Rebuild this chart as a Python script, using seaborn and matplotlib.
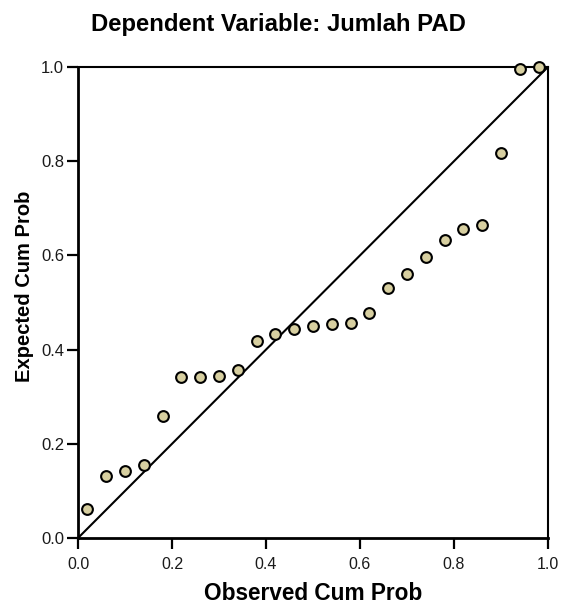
"""
Normal P-P plot of regression standardized residual
"""
import numpy as np
import pandas as pd
import seaborn as sns
import matplotlib
matplotlib.use("Agg")
import matplotlib.pyplot as plt

# data
observed = [0.02, 0.06, 0.10, 0.14, 0.18, 0.22, 0.26, 0.30, 0.34, 0.38,
            0.42, 0.46, 0.50, 0.54, 0.58, 0.62, 0.66, 0.70, 0.74, 0.78,
            0.82, 0.86, 0.90, 0.94, 0.98]
expected = [0.061, 0.132, 0.143, 0.155, 0.260, 0.342, 0.342, 0.344, 0.356, 0.418,
            0.433, 0.444, 0.450, 0.455, 0.456, 0.478, 0.531, 0.561, 0.597, 0.632,
            0.657, 0.664, 0.818, 0.995, 1.0]
ticks = [0.0, 0.2, 0.4, 0.6, 0.8, 1.0]

sns.set_style("white")
plt.rcParams["font.family"] = ["Liberation Sans", "DejaVu Sans"]
plt.rcParams["text.color"] = "black"
plt.rcParams["axes.labelcolor"] = "black"

df = pd.DataFrame({"Observed Cum Prob": observed, "Expected Cum Prob": expected})

fig = plt.figure(figsize=(5.64, 6.05), dpi=100)
ax = fig.add_axes([0.1383, 0.1107, 0.8333, 0.7786])

# diagonal reference line
sns.lineplot(x=[0, 1], y=[0, 1], color="black", linewidth=1.5, ax=ax)
sns.scatterplot(data=df, x="Observed Cum Prob", y="Expected Cum Prob",
                color="#d7cfa0", edgecolor="black", linewidth=1.5, s=60,
                zorder=3, clip_on=False, ax=ax)

ax.set_xlim(0, 1)
ax.set_ylim(0, 1)
ax.set_xticks(ticks)
ax.set_yticks(ticks)
ax.set_xticklabels([f"{t:.1f}" for t in ticks])
ax.set_yticklabels([f"{t:.1f}" for t in ticks])
ax.tick_params(axis="both", direction="out", length=8, width=1.6,
               bottom=True, left=True, color="black",
               labelcolor="#1a1a1a")
ax.tick_params(axis="x", pad=6, labelsize=11.5)
ax.tick_params(axis="y", pad=2, labelsize=12)

for side in ["left", "bottom"]:
    ax.spines[side].set_linewidth(2.0)
for side in ["top", "right"]:
    ax.spines[side].set_linewidth(1.5)
for s in ax.spines.values():
    s.set_color("black")
    s.set_visible(True)

ax.set_xlabel("Observed Cum Prob", fontsize=16.3, fontweight="bold")
ax.set_ylabel("Expected Cum Prob", fontsize=14.5, fontweight="bold")
ax.xaxis.set_label_coords(0.5, -0.094)
ax.yaxis.set_label_coords(-0.094, 0.535)

fig.suptitle("Dependent Variable: Jumlah PAD", x=0.493, y=0.978,
             fontsize=17.2, fontweight="bold")

fig.savefig("out.png", dpi=100)
